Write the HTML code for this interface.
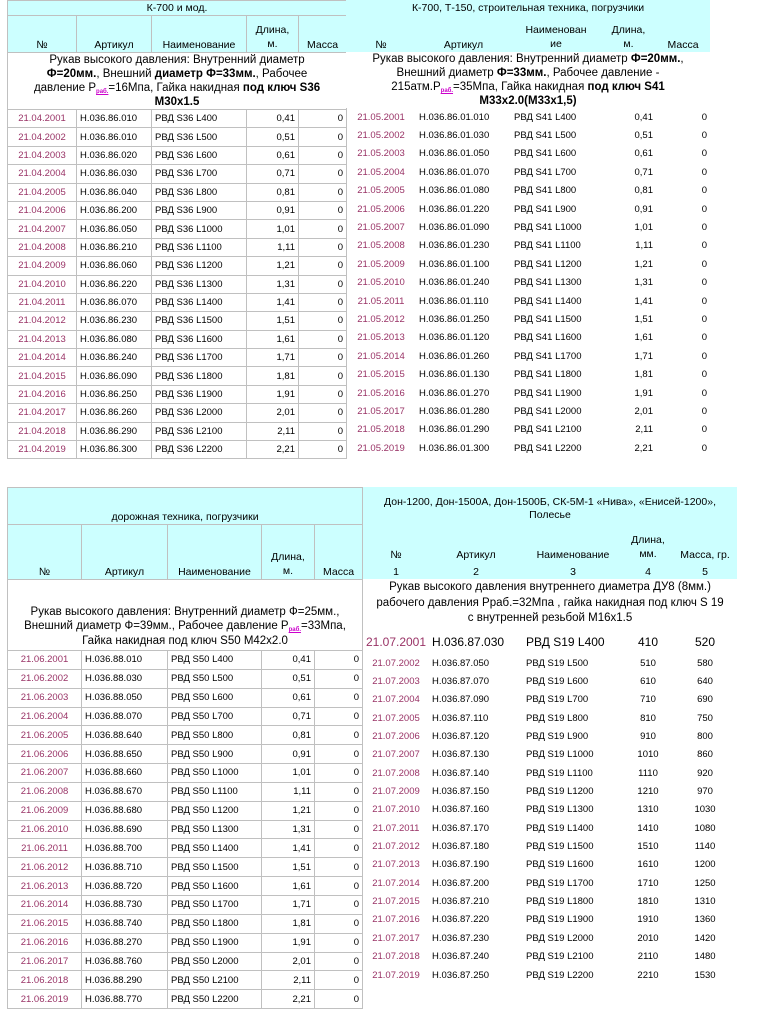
<!DOCTYPE html>
<html><head><meta charset="utf-8">
<style>
body{margin:0;width:760px;height:1012px;background:#fff;position:relative;overflow:hidden;font-family:"Liberation Sans",sans-serif;}
table{position:absolute;border-collapse:collapse;table-layout:fixed;}
td{padding:0 3px;font-size:9.5px;white-space:nowrap;overflow:hidden;line-height:11px;}
.b td{border:1px solid #c0c0c0;}
.h td{background:#ccffff;font-size:10.5px;text-align:center;vertical-align:bottom;padding-bottom:1px;}
.d{color:#993366;text-align:center;}
.r{text-align:right;}
.c{text-align:center;}
.desc td{font-size:11.5px;line-height:14px;text-align:center;white-space:nowrap;}
sub{color:#cc00cc;font-weight:bold;font-size:6px;text-decoration:underline;line-height:0;vertical-align:-2px;}
</style></head><body>

<!-- Top-left -->
<table class="b" style="left:7px;top:0;width:339px;">
<colgroup><col style="width:69px"><col style="width:75px"><col style="width:95px"><col style="width:52px"><col style="width:48px"></colgroup>
<tr class="h" style="height:15px"><td colspan="5">К-700 и мод.</td></tr>
<tr class="h" style="height:37px"><td>№</td><td>Артикул</td><td>Наименование</td><td style="line-height:14px">Длина,<br>м.</td><td>Масса</td></tr>
<tr class="desc" style="height:56px"><td colspan="5">Рукав высокого давления: Внутренний диаметр<br><b>Ф=20мм.</b>, Внешний <b>диаметр Ф=33мм.</b>, Рабочее<br>давление Р<sub>раб.</sub>=16Мпа, Гайка накидная <b>под ключ S36</b><br><b>М30х1.5</b></td></tr>
<tr style="height:18.4px"><td class="d">21.04.2001</td><td>H.036.86.010</td><td>РВД S36 L400</td><td class="r">0,41</td><td class="r">0</td></tr>
<tr style="height:18.4px"><td class="d">21.04.2002</td><td>H.036.86.010</td><td>РВД S36 L500</td><td class="r">0,51</td><td class="r">0</td></tr>
<tr style="height:18.4px"><td class="d">21.04.2003</td><td>H.036.86.020</td><td>РВД S36 L600</td><td class="r">0,61</td><td class="r">0</td></tr>
<tr style="height:18.4px"><td class="d">21.04.2004</td><td>H.036.86.030</td><td>РВД S36 L700</td><td class="r">0,71</td><td class="r">0</td></tr>
<tr style="height:18.4px"><td class="d">21.04.2005</td><td>H.036.86.040</td><td>РВД S36 L800</td><td class="r">0,81</td><td class="r">0</td></tr>
<tr style="height:18.4px"><td class="d">21.04.2006</td><td>H.036.86.200</td><td>РВД S36 L900</td><td class="r">0,91</td><td class="r">0</td></tr>
<tr style="height:18.4px"><td class="d">21.04.2007</td><td>H.036.86.050</td><td>РВД S36 L1000</td><td class="r">1,01</td><td class="r">0</td></tr>
<tr style="height:18.4px"><td class="d">21.04.2008</td><td>H.036.86.210</td><td>РВД S36 L1100</td><td class="r">1,11</td><td class="r">0</td></tr>
<tr style="height:18.4px"><td class="d">21.04.2009</td><td>H.036.86.060</td><td>РВД S36 L1200</td><td class="r">1,21</td><td class="r">0</td></tr>
<tr style="height:18.4px"><td class="d">21.04.2010</td><td>H.036.86.220</td><td>РВД S36 L1300</td><td class="r">1,31</td><td class="r">0</td></tr>
<tr style="height:18.4px"><td class="d">21.04.2011</td><td>H.036.86.070</td><td>РВД S36 L1400</td><td class="r">1,41</td><td class="r">0</td></tr>
<tr style="height:18.4px"><td class="d">21.04.2012</td><td>H.036.86.230</td><td>РВД S36 L1500</td><td class="r">1,51</td><td class="r">0</td></tr>
<tr style="height:18.4px"><td class="d">21.04.2013</td><td>H.036.86.080</td><td>РВД S36 L1600</td><td class="r">1,61</td><td class="r">0</td></tr>
<tr style="height:18.4px"><td class="d">21.04.2014</td><td>H.036.86.240</td><td>РВД S36 L1700</td><td class="r">1,71</td><td class="r">0</td></tr>
<tr style="height:18.4px"><td class="d">21.04.2015</td><td>H.036.86.090</td><td>РВД S36 L1800</td><td class="r">1,81</td><td class="r">0</td></tr>
<tr style="height:18.4px"><td class="d">21.04.2016</td><td>H.036.86.250</td><td>РВД S36 L1900</td><td class="r">1,91</td><td class="r">0</td></tr>
<tr style="height:18.4px"><td class="d">21.04.2017</td><td>H.036.86.260</td><td>РВД S36 L2000</td><td class="r">2,01</td><td class="r">0</td></tr>
<tr style="height:18.4px"><td class="d">21.04.2018</td><td>H.036.86.290</td><td>РВД S36 L2100</td><td class="r">2,11</td><td class="r">0</td></tr>
<tr style="height:18.4px"><td class="d">21.04.2019</td><td>H.036.86.300</td><td>РВД S36 L2200</td><td class="r">2,21</td><td class="r">0</td></tr>
</table>

<!-- Top-right -->
<table style="left:346px;top:0;width:364px;">
<colgroup><col style="width:70px"><col style="width:95px"><col style="width:90px"><col style="width:55px"><col style="width:54px"></colgroup>
<tr class="h" style="height:15px"><td colspan="5">К-700, Т-150, строительная техника, погрузчики</td></tr>
<tr class="h" style="height:37px"><td>№</td><td>Артикул</td><td style="line-height:14px">Наименован<br>ие</td><td style="line-height:14px">Длина,<br>м.</td><td>Масса</td></tr>
<tr class="desc" style="height:56px"><td colspan="5" style="background:#fff">Рукав высокого давления: Внутренний диаметр <b>Ф=20мм.</b>,<br>Внешний диаметр <b>Ф=33мм.</b>, Рабочее давление -<br>215атм.Р<sub>раб.</sub>=35Мпа, Гайка накидная <b>под ключ S41</b><br><b>М33х2.0(М33х1,5)</b></td></tr>
<tr style="height:18.4px"><td class="d">21.05.2001</td><td>H.036.86.01.010</td><td>РВД S41 L400</td><td class="r">0,41</td><td class="r">0</td></tr>
<tr style="height:18.4px"><td class="d">21.05.2002</td><td>H.036.86.01.030</td><td>РВД S41 L500</td><td class="r">0,51</td><td class="r">0</td></tr>
<tr style="height:18.4px"><td class="d">21.05.2003</td><td>H.036.86.01.050</td><td>РВД S41 L600</td><td class="r">0,61</td><td class="r">0</td></tr>
<tr style="height:18.4px"><td class="d">21.05.2004</td><td>H.036.86.01.070</td><td>РВД S41 L700</td><td class="r">0,71</td><td class="r">0</td></tr>
<tr style="height:18.4px"><td class="d">21.05.2005</td><td>H.036.86.01.080</td><td>РВД S41 L800</td><td class="r">0,81</td><td class="r">0</td></tr>
<tr style="height:18.4px"><td class="d">21.05.2006</td><td>H.036.86.01.220</td><td>РВД S41 L900</td><td class="r">0,91</td><td class="r">0</td></tr>
<tr style="height:18.4px"><td class="d">21.05.2007</td><td>H.036.86.01.090</td><td>РВД S41 L1000</td><td class="r">1,01</td><td class="r">0</td></tr>
<tr style="height:18.4px"><td class="d">21.05.2008</td><td>H.036.86.01.230</td><td>РВД S41 L1100</td><td class="r">1,11</td><td class="r">0</td></tr>
<tr style="height:18.4px"><td class="d">21.05.2009</td><td>H.036.86.01.100</td><td>РВД S41 L1200</td><td class="r">1,21</td><td class="r">0</td></tr>
<tr style="height:18.4px"><td class="d">21.05.2010</td><td>H.036.86.01.240</td><td>РВД S41 L1300</td><td class="r">1,31</td><td class="r">0</td></tr>
<tr style="height:18.4px"><td class="d">21.05.2011</td><td>H.036.86.01.110</td><td>РВД S41 L1400</td><td class="r">1,41</td><td class="r">0</td></tr>
<tr style="height:18.4px"><td class="d">21.05.2012</td><td>H.036.86.01.250</td><td>РВД S41 L1500</td><td class="r">1,51</td><td class="r">0</td></tr>
<tr style="height:18.4px"><td class="d">21.05.2013</td><td>H.036.86.01.120</td><td>РВД S41 L1600</td><td class="r">1,61</td><td class="r">0</td></tr>
<tr style="height:18.4px"><td class="d">21.05.2014</td><td>H.036.86.01.260</td><td>РВД S41 L1700</td><td class="r">1,71</td><td class="r">0</td></tr>
<tr style="height:18.4px"><td class="d">21.05.2015</td><td>H.036.86.01.130</td><td>РВД S41 L1800</td><td class="r">1,81</td><td class="r">0</td></tr>
<tr style="height:18.4px"><td class="d">21.05.2016</td><td>H.036.86.01.270</td><td>РВД S41 L1900</td><td class="r">1,91</td><td class="r">0</td></tr>
<tr style="height:18.4px"><td class="d">21.05.2017</td><td>H.036.86.01.280</td><td>РВД S41 L2000</td><td class="r">2,01</td><td class="r">0</td></tr>
<tr style="height:18.4px"><td class="d">21.05.2018</td><td>H.036.86.01.290</td><td>РВД S41 L2100</td><td class="r">2,11</td><td class="r">0</td></tr>
<tr style="height:18.4px"><td class="d">21.05.2019</td><td>H.036.86.01.300</td><td>РВД S41 L2200</td><td class="r">2,21</td><td class="r">0</td></tr>
</table>

<!-- Bottom-left -->
<table class="b" style="left:7px;top:487px;width:356px;">
<colgroup><col style="width:74px"><col style="width:86px"><col style="width:94px"><col style="width:53px"><col style="width:48px"></colgroup>
<tr class="h" style="height:37px"><td colspan="5">дорожная техника, погрузчики</td></tr>
<tr class="h" style="height:55px"><td>№</td><td>Артикул</td><td>Наименование</td><td style="line-height:14px">Длина,<br>м.</td><td>Масса</td></tr>
<tr class="desc" style="height:71px"><td colspan="5" style="vertical-align:bottom;padding-bottom:2px;line-height:14.5px">Рукав высокого давления: Внутренний диаметр Ф=25мм.,<br>Внешний диаметр Ф=39мм., Рабочее давление Р<sub>раб.</sub>=33Мпа,<br>Гайка накидная под ключ S50 М42х2.0</td></tr>
<tr style="height:18.85px"><td class="d">21.06.2001</td><td>H.036.88.010</td><td>РВД S50 L400</td><td class="r">0,41</td><td class="r">0</td></tr>
<tr style="height:18.85px"><td class="d">21.06.2002</td><td>H.036.88.030</td><td>РВД S50 L500</td><td class="r">0,51</td><td class="r">0</td></tr>
<tr style="height:18.85px"><td class="d">21.06.2003</td><td>H.036.88.050</td><td>РВД S50 L600</td><td class="r">0,61</td><td class="r">0</td></tr>
<tr style="height:18.85px"><td class="d">21.06.2004</td><td>H.036.88.070</td><td>РВД S50 L700</td><td class="r">0,71</td><td class="r">0</td></tr>
<tr style="height:18.85px"><td class="d">21.06.2005</td><td>H.036.88.640</td><td>РВД S50 L800</td><td class="r">0,81</td><td class="r">0</td></tr>
<tr style="height:18.85px"><td class="d">21.06.2006</td><td>H.036.88.650</td><td>РВД S50 L900</td><td class="r">0,91</td><td class="r">0</td></tr>
<tr style="height:18.85px"><td class="d">21.06.2007</td><td>H.036.88.660</td><td>РВД S50 L1000</td><td class="r">1,01</td><td class="r">0</td></tr>
<tr style="height:18.85px"><td class="d">21.06.2008</td><td>H.036.88.670</td><td>РВД S50 L1100</td><td class="r">1,11</td><td class="r">0</td></tr>
<tr style="height:18.85px"><td class="d">21.06.2009</td><td>H.036.88.680</td><td>РВД S50 L1200</td><td class="r">1,21</td><td class="r">0</td></tr>
<tr style="height:18.85px"><td class="d">21.06.2010</td><td>H.036.88.690</td><td>РВД S50 L1300</td><td class="r">1,31</td><td class="r">0</td></tr>
<tr style="height:18.85px"><td class="d">21.06.2011</td><td>H.036.88.700</td><td>РВД S50 L1400</td><td class="r">1,41</td><td class="r">0</td></tr>
<tr style="height:18.85px"><td class="d">21.06.2012</td><td>H.036.88.710</td><td>РВД S50 L1500</td><td class="r">1,51</td><td class="r">0</td></tr>
<tr style="height:18.85px"><td class="d">21.06.2013</td><td>H.036.88.720</td><td>РВД S50 L1600</td><td class="r">1,61</td><td class="r">0</td></tr>
<tr style="height:18.85px"><td class="d">21.06.2014</td><td>H.036.88.730</td><td>РВД S50 L1700</td><td class="r">1,71</td><td class="r">0</td></tr>
<tr style="height:18.85px"><td class="d">21.06.2015</td><td>H.036.88.740</td><td>РВД S50 L1800</td><td class="r">1,81</td><td class="r">0</td></tr>
<tr style="height:18.85px"><td class="d">21.06.2016</td><td>H.036.88.270</td><td>РВД S50 L1900</td><td class="r">1,91</td><td class="r">0</td></tr>
<tr style="height:18.85px"><td class="d">21.06.2017</td><td>H.036.88.760</td><td>РВД S50 L2000</td><td class="r">2,01</td><td class="r">0</td></tr>
<tr style="height:18.85px"><td class="d">21.06.2018</td><td>H.036.88.290</td><td>РВД S50 L2100</td><td class="r">2,11</td><td class="r">0</td></tr>
<tr style="height:18.85px"><td class="d">21.06.2019</td><td>H.036.88.770</td><td>РВД S50 L2200</td><td class="r">2,21</td><td class="r">0</td></tr>
</table>

<!-- Bottom-right -->
<table style="left:363px;top:487px;width:374px;">
<colgroup><col style="width:66px"><col style="width:94px"><col style="width:100px"><col style="width:50px"><col style="width:64px"></colgroup>
<tr class="h" style="height:44px"><td colspan="5" style="vertical-align:middle;line-height:13px">Дон-1200, Дон-1500А, Дон-1500Б, СК-5М-1 «Нива», «Енисей-1200»,<br>Полесье</td></tr>
<tr class="h" style="height:31px"><td>№</td><td>Артикул</td><td>Наименование</td><td style="line-height:14px">Длина,<br>мм.</td><td>Масса, гр.</td></tr>
<tr class="h" style="height:17px"><td>1</td><td>2</td><td>3</td><td>4</td><td>5</td></tr>
<tr class="desc" style="height:51px"><td colspan="5" style="vertical-align:top;padding-top:1px;line-height:15.5px;font-size:11.5px">Рукав высокого давления внутреннего диаметра ДУ8 (8мм.)<br>рабочего давления Рраб.=32Мпа , гайка накидная под ключ S 19<br>с внутренней резьбой М16х1.5</td></tr>
<tr style="height:24px"><td class="d" style="font-size:12px;padding:0">21.07.2001</td><td style="font-size:12px">H.036.87.030</td><td style="font-size:12px">РВД S19 L400</td><td class="c" style="font-size:12px">410</td><td class="c" style="font-size:12px">520</td></tr>
<tr style="height:18.35px"><td class="d">21.07.2002</td><td>H.036.87.050</td><td>РВД S19 L500</td><td class="c">510</td><td class="c">580</td></tr>
<tr style="height:18.35px"><td class="d">21.07.2003</td><td>H.036.87.070</td><td>РВД S19 L600</td><td class="c">610</td><td class="c">640</td></tr>
<tr style="height:18.35px"><td class="d">21.07.2004</td><td>H.036.87.090</td><td>РВД S19 L700</td><td class="c">710</td><td class="c">690</td></tr>
<tr style="height:18.35px"><td class="d">21.07.2005</td><td>H.036.87.110</td><td>РВД S19 L800</td><td class="c">810</td><td class="c">750</td></tr>
<tr style="height:18.35px"><td class="d">21.07.2006</td><td>H.036.87.120</td><td>РВД S19 L900</td><td class="c">910</td><td class="c">800</td></tr>
<tr style="height:18.35px"><td class="d">21.07.2007</td><td>H.036.87.130</td><td>РВД S19 L1000</td><td class="c">1010</td><td class="c">860</td></tr>
<tr style="height:18.35px"><td class="d">21.07.2008</td><td>H.036.87.140</td><td>РВД S19 L1100</td><td class="c">1110</td><td class="c">920</td></tr>
<tr style="height:18.35px"><td class="d">21.07.2009</td><td>H.036.87.150</td><td>РВД S19 L1200</td><td class="c">1210</td><td class="c">970</td></tr>
<tr style="height:18.35px"><td class="d">21.07.2010</td><td>H.036.87.160</td><td>РВД S19 L1300</td><td class="c">1310</td><td class="c">1030</td></tr>
<tr style="height:18.35px"><td class="d">21.07.2011</td><td>H.036.87.170</td><td>РВД S19 L1400</td><td class="c">1410</td><td class="c">1080</td></tr>
<tr style="height:18.35px"><td class="d">21.07.2012</td><td>H.036.87.180</td><td>РВД S19 L1500</td><td class="c">1510</td><td class="c">1140</td></tr>
<tr style="height:18.35px"><td class="d">21.07.2013</td><td>H.036.87.190</td><td>РВД S19 L1600</td><td class="c">1610</td><td class="c">1200</td></tr>
<tr style="height:18.35px"><td class="d">21.07.2014</td><td>H.036.87.200</td><td>РВД S19 L1700</td><td class="c">1710</td><td class="c">1250</td></tr>
<tr style="height:18.35px"><td class="d">21.07.2015</td><td>H.036.87.210</td><td>РВД S19 L1800</td><td class="c">1810</td><td class="c">1310</td></tr>
<tr style="height:18.35px"><td class="d">21.07.2016</td><td>H.036.87.220</td><td>РВД S19 L1900</td><td class="c">1910</td><td class="c">1360</td></tr>
<tr style="height:18.35px"><td class="d">21.07.2017</td><td>H.036.87.230</td><td>РВД S19 L2000</td><td class="c">2010</td><td class="c">1420</td></tr>
<tr style="height:18.35px"><td class="d">21.07.2018</td><td>H.036.87.240</td><td>РВД S19 L2100</td><td class="c">2110</td><td class="c">1480</td></tr>
<tr style="height:18.35px"><td class="d">21.07.2019</td><td>H.036.87.250</td><td>РВД S19 L2200</td><td class="c">2210</td><td class="c">1530</td></tr>
</table>

</body></html>
